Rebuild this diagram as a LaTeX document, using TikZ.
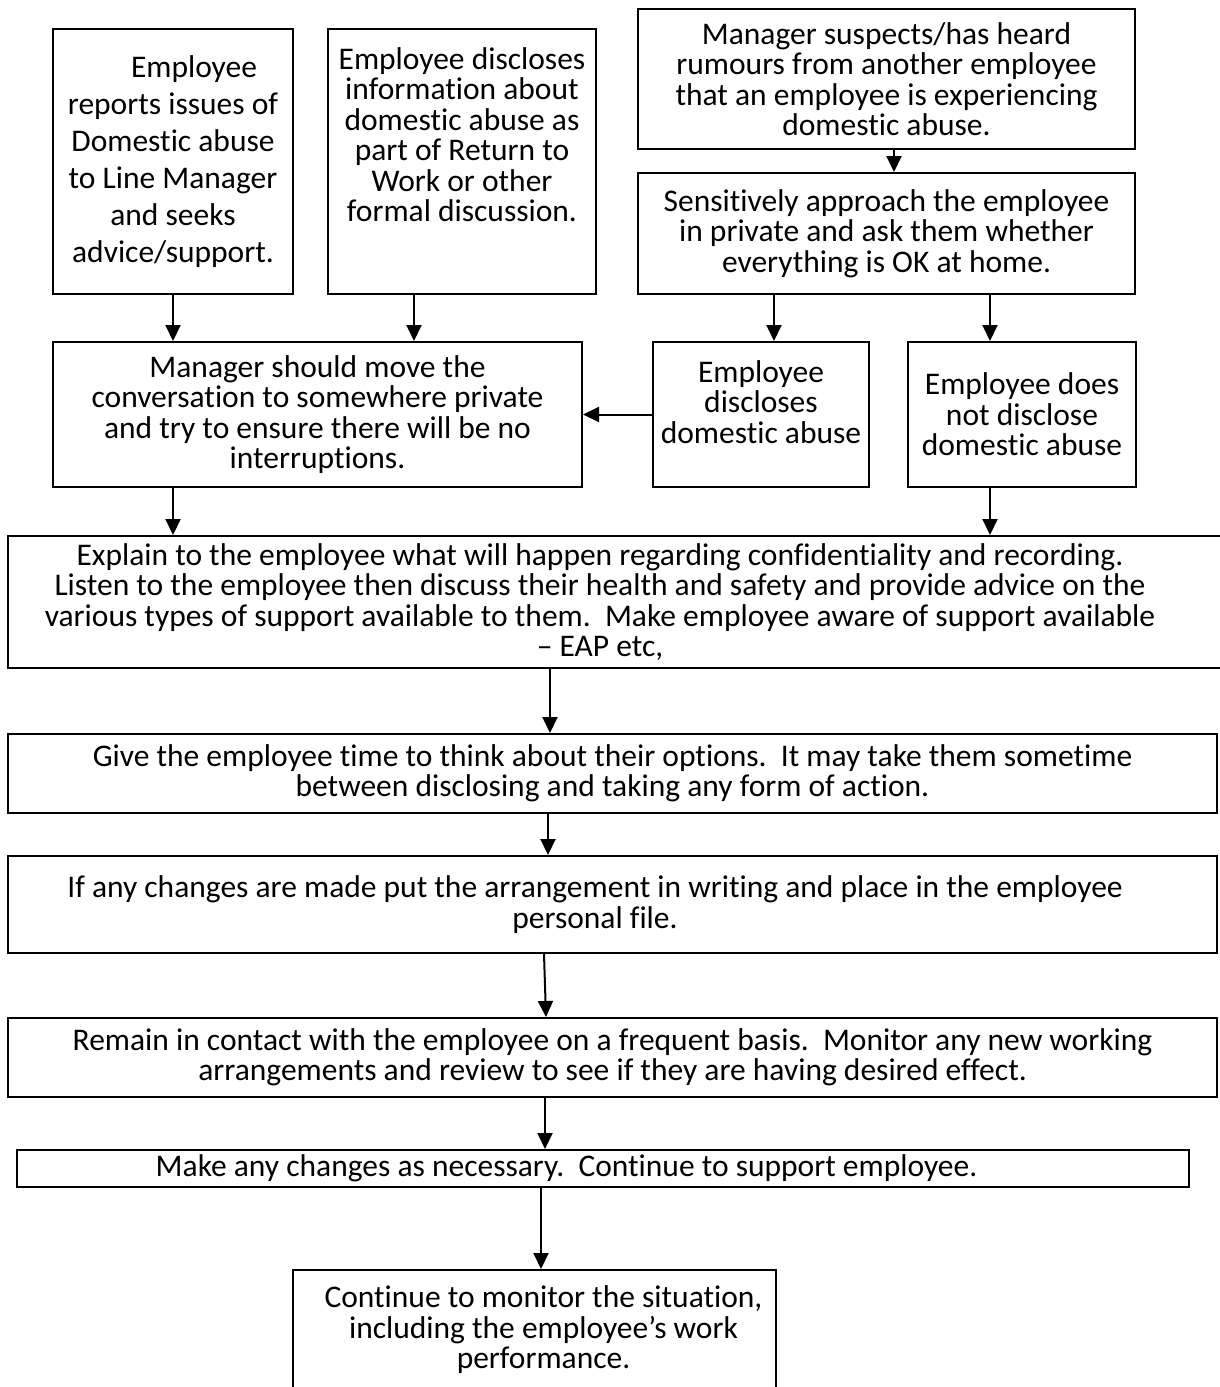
\documentclass[tikz,border=0pt]{standalone}
\usepackage{fontspec}
\setmainfont{Carlito}[Ligatures=NoCommon]
\usetikzlibrary{arrows.meta}

\begin{document}
\begin{tikzpicture}
[x=1pt,y=-1pt,
 box/.style={rectangle,draw,line width=2pt,inner sep=0pt,align=center,
             font=\fontsize{31.5}{30.5}\selectfont},
 arr/.style={line width=2pt,-{Triangle[length=16pt,width=15pt]}}]
\useasboundingbox (0,0) rectangle (1220,1387);
%
\node[box,minimum width=240pt,minimum height=265pt,font=\fontsize{31.5}{37}\selectfont] (report) at (173,161.5)
  {\rule{42pt}{0pt}Employee\\reports issues of\\Domestic abuse\\to Line Manager\\and seeks\\advice/support.};
\node[box,minimum width=268pt,minimum height=265pt] (rtw) at (462,161.5)
  {Employee discloses\\information about\\domestic abuse as\\part of Return to\\Work or other\\formal discussion.\\[23.5pt]\mbox{}};
\node[box,minimum width=497pt,minimum height=140pt] (rumour) at (886.5,79)
  {Manager suspects/has heard\\rumours from another employee\\that an employee is experiencing\\domestic abuse.};
\node[box,minimum width=497pt,minimum height=121pt] (approach) at (886.5,233.5)
  {Sensitively approach the employee\\in private and ask them whether\\everything is OK at home.};
\node[box,minimum width=529pt,minimum height=145pt] (private) at (317.5,414.5)
  {Manager should move the\\conversation to somewhere private\\and try to ensure there will be no\\interruptions.};
\node[box,minimum width=216pt,minimum height=145pt] (discl) at (761,414.5)
  {Employee\\discloses\\domestic abuse\\[-5pt]\mbox{}};
\node[box,minimum width=228pt,minimum height=145pt] (nodiscl) at (1022,414.5)
  {Employee does\\not disclose\\domestic abuse};
%
\node[box,minimum width=1217pt,minimum height=132pt] (explain) at (616.5,602)
  {Explain to the employee what will happen regarding confidentiality and recording.\rule{33pt}{0pt}\\
   Listen to the employee then discuss their health and safety and provide advice on the\rule{33pt}{0pt}\\
   various types of support available to them.\ \ Make employee aware of support available\rule{33pt}{0pt}\\
   – EAP etc,\rule{33pt}{0pt}};
\node[box,minimum width=1209pt,minimum height=79pt] (options) at (612.5,773.5)
  {Give the employee time to think about their options.\ \ It may take them sometime\\
   between disclosing and taking any form of action.};
\node[box,minimum width=1209pt,minimum height=97pt] (writing) at (612.5,904.5)
  {If any changes are made put the arrangement in writing and place in the employee\rule{35pt}{0pt}\\
   personal file.\rule{35pt}{0pt}};
\node[box,minimum width=1209pt,minimum height=79pt] (contact) at (612.5,1057.5)
  {Remain in contact with the employee on a frequent basis.\ \ Monitor any new working\\
   arrangements and review to see if they are having desired effect.};
\node[box,minimum width=1172pt,minimum height=37pt] (changes) at (603,1168.5)
  {Make any changes as necessary.\ \ Continue to support employee.\rule{73pt}{0pt}};
\node[box,minimum width=483pt,minimum height=120pt] (monitor) at (534.5,1330)
  {\rule{18pt}{0pt}Continue to monitor the situation,\\
   \rule{18pt}{0pt}including the employee’s work\\
   \rule{18pt}{0pt}performance.};
%
\draw[arr] (report) -- (report |- private.north);
\draw[arr] ([xshift=-48pt]rtw.south) -- ([xshift=-48pt]rtw.south |- private.north);
\draw[arr] ([xshift=7.5pt]rumour.south) -- ([xshift=7.5pt]rumour.south |- approach.north);
\draw[arr] ([xshift=13pt]discl.north |- approach.south) -- ([xshift=13pt]discl.north);
\draw[arr] ([xshift=-32pt]nodiscl.north |- approach.south) -- ([xshift=-32pt]nodiscl.north);
\draw[arr] (discl) -- (private);
\draw[arr] (report.south |- private.south) -- (report.south |- explain.north);
\draw[arr] ([xshift=-32pt]nodiscl.south) -- ([xshift=-32pt]nodiscl.south |- explain.north);
\draw[arr] ([xshift=-66.5pt]explain.south) -- ([xshift=-66.5pt]explain.south |- options.north);
\draw[arr] ([xshift=-64.5pt]options.south) -- ([xshift=-64.5pt]options.south |- writing.north);
\draw[arr] ([xshift=-68.5pt]writing.south) -- ([xshift=-66.5pt]contact.north);
\draw[arr] ([xshift=-67.5pt]contact.south) -- ([xshift=-67.5pt]contact.south |- changes.north);
\draw[arr] ([xshift=6.5pt]monitor.north |- changes.south) -- ([xshift=6.5pt]monitor.north);
\end{tikzpicture}
\end{document}
